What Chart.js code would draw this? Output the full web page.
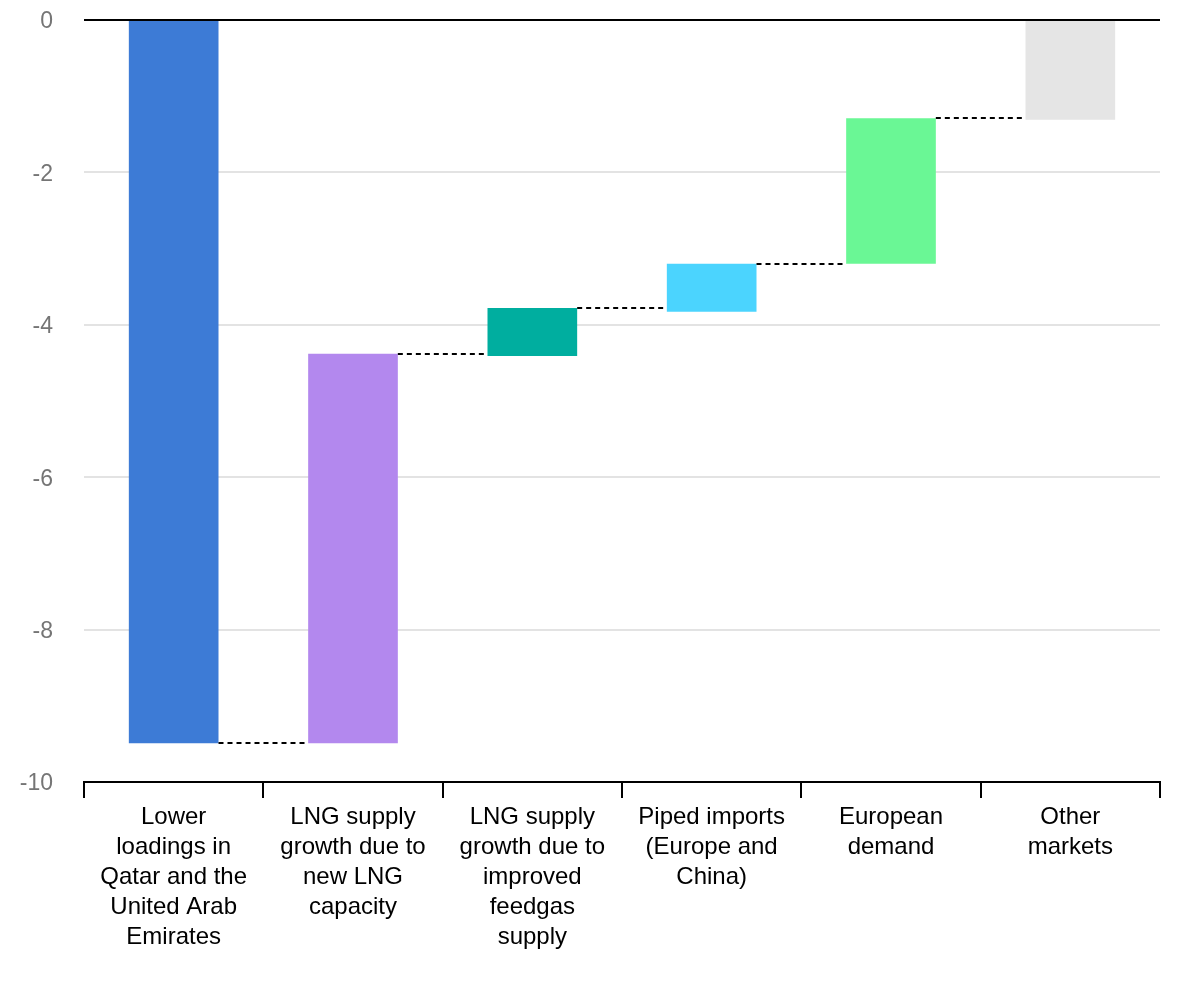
<!DOCTYPE html>
<html>
<head>
<meta charset="utf-8">
<script src="https://cdn.jsdelivr.net/npm/chart.js@4.4.0/dist/chart.umd.min.js"></script>
<style>
  html, body { margin: 0; padding: 0; background: #fff; }
  #wrap { width: 1200px; height: 1000px; }
</style>
</head>
<body>
<div id="wrap"><canvas id="grafico"></canvas></div>
<script>
// Categorias (eixo X)
var categorias = [
  ["Lower", "loadings in", "Qatar and the", "United Arab", "Emirates"],
  ["LNG supply", "growth due to", "new LNG", "capacity"],
  ["LNG supply", "growth due to", "improved", "feedgas", "supply"],
  ["Piped imports", "(Europe and", "China)"],
  ["European", "demand"],
  ["Other", "markets"]
];

// Inicio e fim de cada barra (cascata)
var inicioBarra = [0, -9.49, -4.41, -3.83, -3.2, -1.31];
var fimBarra = [-9.49, -4.38, -3.78, -3.2, -1.29, 0];

// Escala Y
var yMin = -10;
var yMax = 0;
var yPasso = 2;

var cores = ["#3d7bd6", "#b388ee", "#00ae9f", "#4bd4fe", "#6af795", "#e5e5e5"];

var dadosBarras = inicioBarra.map(function (v, i) {
  return [v, fimBarra[i]];
});

// Plugin para desenhar as linhas tracejadas entre as barras
var linhasConexao = {
  id: "linhasConexao",
  afterDatasetsDraw: function (chart) {
    var meta = chart.getDatasetMeta(0);
    var y = chart.scales.y;
    var ctx = chart.ctx;
    ctx.save();
    ctx.strokeStyle = "#000";
    ctx.lineWidth = 2;
    ctx.setLineDash([5, 4]);
    for (var i = 0; i < meta.data.length - 1; i++) {
      var atual = meta.data[i];
      var prox = meta.data[i + 1];
      var py = Math.round(y.getPixelForValue(fimBarra[i]));
      ctx.beginPath();
      ctx.moveTo(atual.x + atual.width / 2, py);
      ctx.lineTo(prox.x - prox.width / 2, py);
      ctx.stroke();
    }
    ctx.restore();
  }
};

var ctx = document.getElementById("grafico").getContext("2d");
var grafico = new Chart(ctx, {
  type: "bar",
  data: {
    labels: categorias,
    datasets: [
      {
        data: dadosBarras,
        backgroundColor: cores,
        borderWidth: 0,
        barPercentage: 0.5,
        categoryPercentage: 1.0
      }
    ]
  },
  options: {
    responsive: true,
    maintainAspectRatio: false,
    animation: false,
    layout: {
      padding: { top: 0, right: 40, bottom: 44, left: 0 }
    },
    plugins: {
      legend: { display: false },
      tooltip: { enabled: false }
    },
    scales: {
      x: {
        grid: {
          offset: true,
          drawOnChartArea: false,
          drawTicks: true,
          tickLength: 16,
          color: "#000",
          lineWidth: 2
        },
        border: { display: true, color: "#000", width: 2 },
        ticks: {
          autoSkip: false,
          maxRotation: 0,
          padding: 4,
          color: "#000",
          font: { family: "'Liberation Sans', Arial, sans-serif", size: 24, lineHeight: 1.25 }
        }
      },
      y: {
        min: yMin,
        max: yMax,
        afterFit: function (scale) {
          scale.width = 84;      // largura fixa do eixo Y
          scale.paddingTop = 20; // espaco acima do zero
        },
        grid: {
          drawTicks: false,
          color: function (c) {
            return c.tick && c.tick.value === 0 ? "#000" : "#e3e3e3";
          },
          lineWidth: 2
        },
        border: { display: false },
        ticks: {
          stepSize: yPasso,
          padding: 31,
          labelOffset: 2,
          color: "#757575",
          font: { family: "'Liberation Sans', Arial, sans-serif", size: 23 }
        }
      }
    }
  },
  plugins: [linhasConexao]
});
</script>
</body>
</html>
